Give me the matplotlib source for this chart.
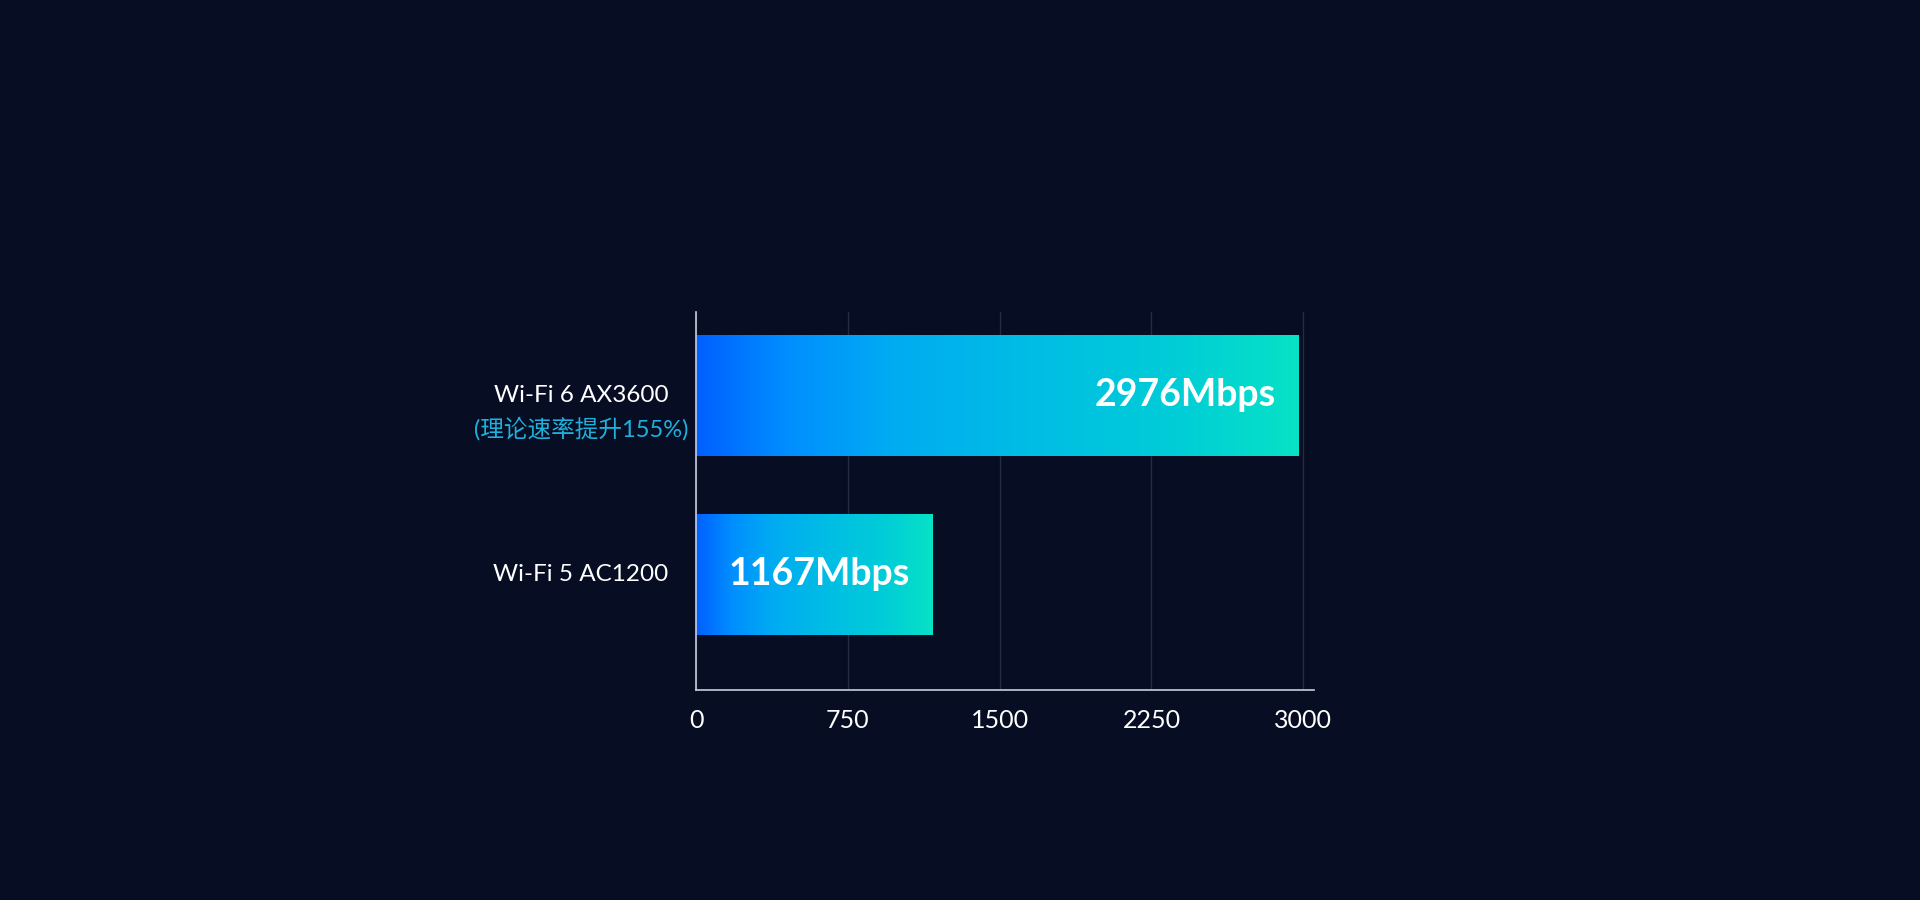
import matplotlib.pyplot as plt
import numpy as np
from matplotlib.colors import LinearSegmentedColormap
from matplotlib import transforms

plt.rcParams['font.family'] = ['Lato', 'Noto Sans CJK SC', 'DejaVu Sans']

# data
categories = ["Wi-Fi 5 AC1200", "Wi-Fi 6 AX3600"]
notes = ["", "(理论速率提升155%)"]
speeds = [1167, 2976]
value_labels = ["1167Mbps", "2976Mbps"]
xticks = [0, 750, 1500, 2250, 3000]

BG = "#070e24"
grad = LinearSegmentedColormap.from_list(
    "bar", [(0.0, "#0060ff"), (0.15, "#008eff"), (0.32, "#00abf2"),
            (0.55, "#00bde5"), (0.8, "#00cdd7"), (1.0, "#08e2c6")])

fig = plt.figure(figsize=(19.2, 9), dpi=100, facecolor=BG)
ax = fig.add_axes([0.3625, 0.2333, 0.322, 0.42])
ax.set_facecolor(BG)

y = np.arange(len(categories))
bars = ax.barh(y, speeds, height=0.676, color="none", zorder=2)

g = np.linspace(0, 1, 256).reshape(1, -1)
for b, lab in zip(bars, value_labels):
    x0, y0 = b.get_x(), b.get_y()
    w, h = b.get_width(), b.get_height()
    im = ax.imshow(g, cmap=grad, aspect="auto", extent=[x0, x0 + w, y0, y0 + h],
                   zorder=2, interpolation="bicubic")
    im.set_clip_path(b)
    ax.annotate(lab, (x0 + w, y0 + h / 2), xytext=(-16, 0), textcoords="offset points",
                ha="right", va="center", color="white", fontsize=27,
                fontweight="bold", zorder=3)

ax.set_xlim(0, 3054)
ax.set_ylim(-0.648, 1.464)

ax.set_xticks(xticks)
ax.set_xticklabels([str(t) for t in xticks])
ax.tick_params(axis="x", length=0, pad=14, labelsize=18, labelcolor="white")
ax.set_yticks([])
ax.grid(axis="x", color="#252c42", linewidth=1, zorder=0)

for s in ["top", "right"]:
    ax.spines[s].set_visible(False)
for s in ["left", "bottom"]:
    ax.spines[s].set_color("#c9cede")
    ax.spines[s].set_linewidth(1.2)

# category labels, centred left of the axis
trans = transforms.blended_transform_factory(ax.transAxes, ax.transData)
lab_x = -115 / 618
for yi, cat, note in zip(y, categories, notes):
    ax.text(lab_x, yi, cat, transform=trans, ha="center", va="center",
            color="white", fontsize=17.5)
    if note:
        ax.annotate(note, (lab_x, yi), xycoords=trans, xytext=(0, -24),
                    textcoords="offset points", ha="center", va="center",
                    color="#1fb0dc", fontsize=17)

fig.savefig("out.png", dpi=100, facecolor=BG)
